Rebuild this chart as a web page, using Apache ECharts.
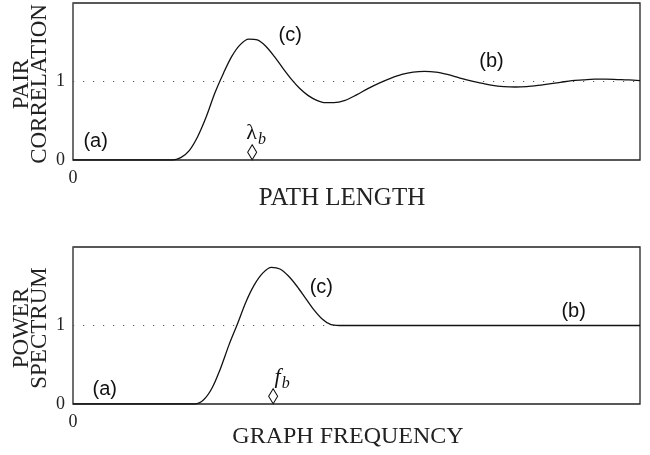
<!DOCTYPE html>
<html>
<head>
<meta charset="utf-8">
<script src="https://cdn.jsdelivr.net/npm/echarts@6/dist/echarts.min.js"></script>
<style>
  html, body { margin: 0; padding: 0; background: #fff; }
  #chart { width: 650px; height: 455px; }
</style>
</head>
<body>
<div id="chart"></div>
<script>
// Path length / graph frequency, both on a 0–100 scale across the panel.
var pairX = [0, 17.5, 19, 20.5, 22, 23.5, 25, 26.5, 28, 29.5, 31, 32.5, 34, 35.5, 37, 38.5, 40, 41.5, 43, 44.5, 46, 48, 50, 52, 54, 56, 58, 60, 62, 64, 66, 68, 70, 72, 74, 76, 78, 80, 82, 84, 86, 88, 90, 92, 94, 96, 98, 100];
var pairY = [0, 0, 0.03, 0.12, 0.3, 0.55, 0.85, 1.1, 1.32, 1.47, 1.54, 1.53, 1.45, 1.32, 1.17, 1.03, 0.91, 0.82, 0.76, 0.73, 0.73, 0.76, 0.83, 0.91, 0.98, 1.04, 1.09, 1.12, 1.13, 1.12, 1.09, 1.05, 1.01, 0.98, 0.95, 0.935, 0.93, 0.935, 0.95, 0.97, 0.99, 1.01, 1.02, 1.03, 1.03, 1.025, 1.02, 1.01];

var powerX = [0, 21.5, 23, 24.5, 26, 27.5, 29, 30.5, 32, 33.5, 35, 36.5, 38, 39.5, 41, 42.5, 44, 45.5, 47, 100];
var powerY = [0, 0, 0.05, 0.2, 0.45, 0.75, 1.02, 1.3, 1.52, 1.67, 1.74, 1.72, 1.63, 1.5, 1.35, 1.2, 1.08, 1.01, 1.0, 1.0];

// Characteristic scale markers
var lambdaB = [31.6, 0.1];
var freqB = [35.3, 0.1];

// Region annotations: [text, x, y]
var pairNotes = [['(a)', 4.0, 0.23], ['(c)', 38.3, 1.59], ['(b)', 73.8, 1.26]];
var powerNotes = [['(a)', 5.6, 0.19], ['(c)', 43.8, 1.48], ['(b)', 88.3, 1.18]];

var yTicks = ['0', '1'];
var xTickLabel = '0';

var serif = '"Liberation Serif", "DejaVu Serif", serif';
var sans = '"Liberation Sans", Arial, sans-serif';

function zip(xs, ys) {
  return xs.map(function (x, i) { return [x, ys[i]]; });
}

function xAxisFor(idx) {
  return {
    type: 'value', gridIndex: idx, min: 0, max: 100, interval: 100,
    axisLine: { show: false }, axisTick: { show: false }, splitLine: { show: false },
    axisLabel: {
      showMaxLabel: false, margin: 9, color: '#222', fontFamily: serif, fontSize: 18,
      formatter: function (v) { return v === 0 ? xTickLabel : ''; }
    }
  };
}

function yAxisFor(idx) {
  return {
    type: 'value', gridIndex: idx, min: 0, max: 2, interval: 1,
    axisLine: { show: false }, axisTick: { show: false },
    splitLine: { show: true, lineStyle: { color: '#555', width: 1.2, type: [1.2, 8.8] } },
    axisLabel: {
      showMaxLabel: false, margin: 8, color: '#222', fontFamily: serif, fontSize: 18,
      formatter: function (v) { return v < 2 ? yTicks[v] : ''; }
    }
  };
}

function curve(idx, xs, ys) {
  return {
    type: 'line', xAxisIndex: idx, yAxisIndex: idx, data: zip(xs, ys),
    smooth: 0.3, showSymbol: false, symbol: 'none', z: 5,
    lineStyle: { color: '#111', width: 1.3 }
  };
}

function marker(idx, pt, rich, fmt, offset) {
  return {
    type: 'scatter', xAxisIndex: idx, yAxisIndex: idx, data: [pt],
    symbol: 'diamond', symbolSize: [9, 15], z: 6,
    itemStyle: { color: '#fff', borderColor: '#111', borderWidth: 1.1, opacity: 1 },
    label: {
      show: true, position: 'top', distance: 0, offset: offset,
      color: '#111', formatter: fmt, rich: rich
    }
  };
}

function notes(idx, list) {
  return {
    type: 'scatter', xAxisIndex: idx, yAxisIndex: idx, symbolSize: 0, z: 7,
    itemStyle: { opacity: 1 },
    data: list.map(function (n) { return { value: [n[1], n[2]], name: n[0] }; }),
    label: {
      show: true, position: 'inside', formatter: '{b}',
      color: '#111', fontFamily: sans, fontSize: 20
    }
  };
}

var lambdaRich = {
  l: { fontFamily: serif, fontSize: 22, color: '#111' },
  s: { fontFamily: serif, fontStyle: 'italic', fontSize: 16, color: '#111', padding: [14, 0, 0, 1] }
};
var freqRich = {
  l: { fontFamily: serif, fontStyle: 'italic', fontSize: 22, color: '#111' },
  s: { fontFamily: serif, fontStyle: 'italic', fontSize: 16, color: '#111', padding: [14, 0, 0, 1] }
};

var chart = echarts.init(document.getElementById('chart'), null, { renderer: 'canvas' });

chart.setOption({
  animation: false,
  backgroundColor: '#fff',
  grid: [
    { left: 73, right: 10, top: 3, height: 157, show: true, borderColor: '#222', borderWidth: 1.3, backgroundColor: 'transparent' },
    { left: 73, right: 10, top: 247, height: 157, show: true, borderColor: '#222', borderWidth: 1.3, backgroundColor: 'transparent' }
  ],
  xAxis: [xAxisFor(0), xAxisFor(1)],
  yAxis: [yAxisFor(0), yAxisFor(1)],
  series: [
    curve(0, pairX, pairY),
    curve(1, powerX, powerY),
    marker(0, lambdaB, lambdaRich, '{l|λ}{s|b}', [4, 4]),
    marker(1, freqB, freqRich, '{l|f}{s|b}', [9, 4]),
    notes(0, pairNotes),
    notes(1, powerNotes)
  ],
  graphic: [
    { type: 'text', x: 342, y: 198, style: { text: 'PATH LENGTH', font: '25px ' + serif, fill: '#222', textAlign: 'center', textVerticalAlign: 'middle' } },
    { type: 'text', x: 348, y: 437, style: { text: 'GRAPH FREQUENCY', font: '24px ' + serif, fill: '#222', textAlign: 'center', textVerticalAlign: 'middle' } },
    { type: 'text', x: 22, y: 84, rotation: Math.PI / 2, style: { text: 'PAIR', font: '23px ' + serif, fill: '#222', textAlign: 'center', textVerticalAlign: 'middle' } },
    { type: 'text', x: 40, y: 84, rotation: Math.PI / 2, style: { text: 'CORRELATION', font: '23px ' + serif, fill: '#222', textAlign: 'center', textVerticalAlign: 'middle' } },
    { type: 'text', x: 22, y: 328, rotation: Math.PI / 2, style: { text: 'POWER', font: '23px ' + serif, fill: '#222', textAlign: 'center', textVerticalAlign: 'middle' } },
    { type: 'text', x: 40, y: 328, rotation: Math.PI / 2, style: { text: 'SPECTRUM', font: '23px ' + serif, fill: '#222', textAlign: 'center', textVerticalAlign: 'middle' } }
  ]
});
</script>
</body>
</html>
